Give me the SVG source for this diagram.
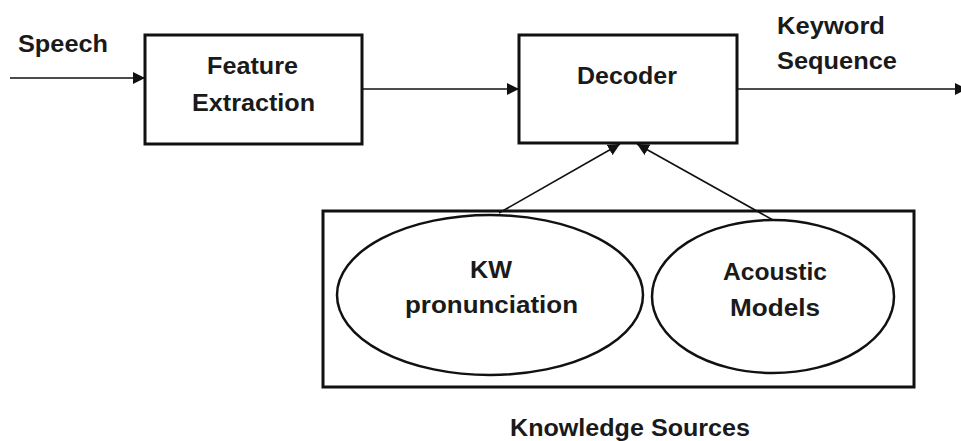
<svg xmlns="http://www.w3.org/2000/svg" width="961" height="441" viewBox="0 0 961 441">
  <style>
    .box { fill: #ffffff; stroke: #111111; stroke-width: 3; }
    .oval { fill: #ffffff; stroke: #111111; stroke-width: 2.5; }
    .wire { fill: none; stroke: #111111; stroke-width: 1.6; marker-end: url(#head); }
    .label { font-family: "Liberation Sans", Arial, sans-serif; font-weight: bold; font-size: 23px; fill: #1a1a1a; }
  </style>
  <defs>
    <marker id="head" viewBox="0 0 12 12" refX="12" refY="6" markerWidth="12" markerHeight="12" markerUnits="userSpaceOnUse" orient="auto">
      <path d="M0,0 L12,6 L0,12 z" fill="#111111"/>
    </marker>
  </defs>

  <rect width="961" height="441" fill="#ffffff"/>

  <!-- input label -->
  <text class="label" x="18" y="52" textLength="90" lengthAdjust="spacingAndGlyphs">Speech</text>

  <!-- output label -->
  <g id="output-label">
    <text class="label" x="777" y="34" textLength="108" lengthAdjust="spacingAndGlyphs">Keyword</text>
    <text class="label" x="777" y="69" textLength="120" lengthAdjust="spacingAndGlyphs">Sequence</text>
  </g>

  <g id="feature-extraction">
    <rect class="box" x="145" y="35" width="217" height="109"/>
    <text class="label" x="207" y="74" textLength="91" lengthAdjust="spacingAndGlyphs">Feature</text>
    <text class="label" x="192" y="111" textLength="123" lengthAdjust="spacingAndGlyphs">Extraction</text>
  </g>

  <g id="decoder">
    <rect class="box" x="519" y="35" width="218" height="108"/>
    <text class="label" x="577" y="84" textLength="100" lengthAdjust="spacingAndGlyphs">Decoder</text>
  </g>

  <g id="knowledge-sources">
    <rect class="box" x="323" y="211" width="591" height="176"/>
    <text class="label" x="510" y="436" textLength="240" lengthAdjust="spacingAndGlyphs">Knowledge Sources</text>
  </g>

  <g id="kw-pronunciation">
    <ellipse class="oval" cx="490" cy="295" rx="153" ry="80"/>
    <text class="label" x="470" y="278" textLength="42" lengthAdjust="spacingAndGlyphs">KW</text>
    <text class="label" x="405" y="313" textLength="173" lengthAdjust="spacingAndGlyphs">pronunciation</text>
  </g>

  <g id="acoustic-models">
    <ellipse class="oval" cx="773" cy="296.5" rx="121" ry="76.5"/>
    <text class="label" x="723" y="280" textLength="104" lengthAdjust="spacingAndGlyphs">Acoustic</text>
    <text class="label" x="730" y="316" textLength="90" lengthAdjust="spacingAndGlyphs">Models</text>
  </g>

  <g id="connectors">
    <line class="wire" x1="10" y1="78" x2="145" y2="78"/>
    <line class="wire" x1="363" y1="89" x2="519" y2="89"/>
    <line class="wire" x1="737" y1="89" x2="967" y2="89"/>
    <line class="wire" x1="499" y1="213" x2="620" y2="144"/>
    <line class="wire" x1="773" y1="220" x2="637" y2="144"/>
  </g>
</svg>
